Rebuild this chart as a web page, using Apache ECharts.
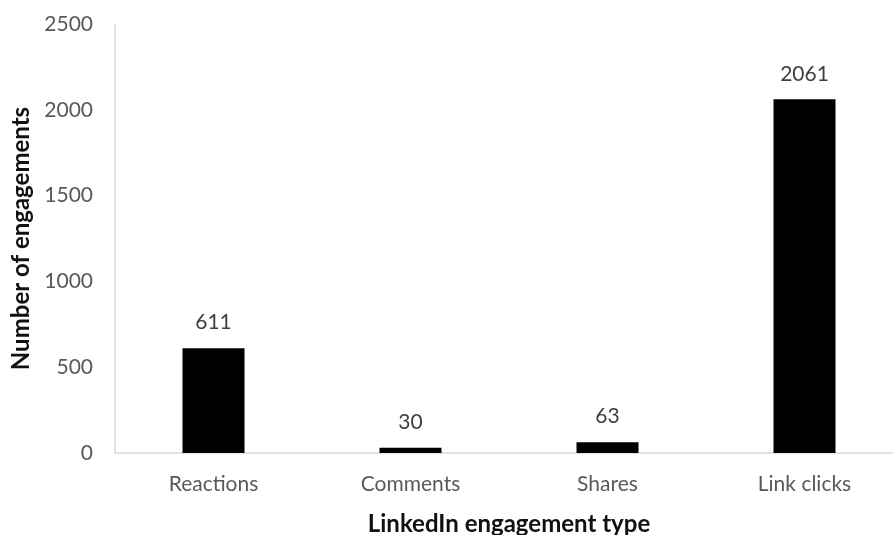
<!DOCTYPE html>
<html>
<head>
<meta charset="utf-8">
<script src="https://cdn.jsdelivr.net/npm/echarts@6/dist/echarts.min.js"></script>
<style>
  html, body { margin: 0; padding: 0; background: #fff; }
  #chart { width: 893px; height: 535px; }
</style>
</head>
<body>
<div id="chart"></div>
<script>
// LinkedIn engagement counts by type
const categories = ['Reactions', 'Comments', 'Shares', 'Link clicks'];
const engagements = [611, 30, 63, 2061];
const yTicks = { min: 0, max: 2500, interval: 500 };

const FONT = 'Lato, "Open Sans", sans-serif';

const chart = echarts.init(document.getElementById('chart'), null, { renderer: 'canvas' });
chart.setOption({
  animation: false,
  backgroundColor: '#ffffff',
  grid: {
    left: 115, top: 24, width: 788, bottom: 82,
    containLabel: false,
    outerBoundsMode: 'none'
  },
  xAxis: {
    type: 'category',
    data: categories,
    name: 'LinkedIn engagement type',
    nameLocation: 'middle',
    nameGap: 59,
    nameTextStyle: { fontFamily: FONT, fontSize: 24, fontWeight: 'bold', color: '#111' },
    axisLine: { lineStyle: { color: '#d9d9d9', width: 1.5 } },
    axisTick: { show: false },
    axisLabel: { fontFamily: FONT, fontSize: 21, color: '#595959', margin: 21 }
  },
  yAxis: {
    type: 'value',
    min: yTicks.min,
    max: yTicks.max,
    interval: yTicks.interval,
    name: 'Number of engagements',
    nameLocation: 'middle',
    nameGap: 81,
    nameRotate: 90,
    nameTextStyle: { fontFamily: FONT, fontSize: 24, fontWeight: 'bold', color: '#111' },
    axisLine: { show: true, lineStyle: { color: '#d9d9d9', width: 1.5 } },
    axisTick: { show: false },
    splitLine: { show: false },
    axisLabel: {
      fontFamily: FONT, fontSize: 21, color: '#595959', margin: 22,
      formatter: (v) => String(v)
    }
  },
  series: [{
    type: 'bar',
    data: engagements,
    barWidth: 62,
    itemStyle: { color: '#000000' },
    label: {
      show: true,
      position: 'top',
      distance: 15,
      fontFamily: FONT,
      fontSize: 21,
      color: '#404040'
    }
  }]
});
</script>
</body>
</html>
